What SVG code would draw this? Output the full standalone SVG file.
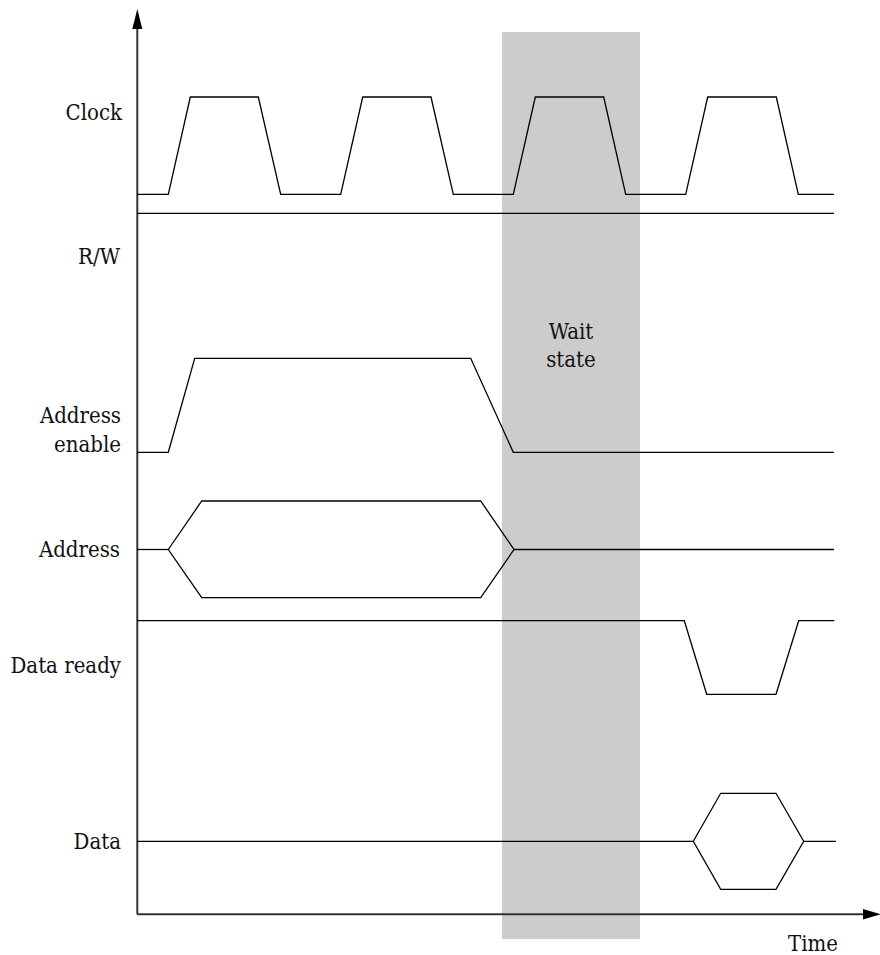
<svg xmlns="http://www.w3.org/2000/svg" width="880" height="955" viewBox="0 0 880 955">
<style>
.lbl{font-family:"DejaVu Serif Condensed","DejaVu Serif","Liberation Serif",serif;font-stretch:condensed;font-size:22px;fill:#111}
.sig{fill:none;stroke:#000;stroke-width:1.3;stroke-linejoin:miter}
.axis{fill:none;stroke:#333;stroke-width:2}
.head{fill:#000}
</style>
<rect id="wait-state" x="502" y="32" width="138" height="907" fill="#cccccc"/>
<g id="axes">
<line class="axis" x1="137.3" y1="26" x2="137.3" y2="914.3"/>
<polygon class="head" points="137.3,9 132.3,29 142.3,29"/>
<line class="axis" x1="137.3" y1="914.3" x2="866" y2="914.3"/>
<polygon class="head" points="881,914.3 863,909 863,919.6"/>
</g>
<g id="clock">
<text class="lbl" x="122" y="120" text-anchor="end">Clock</text>
<polyline class="sig" points="137.3,194.3 168.3,194.3 190.3,97 258.3,97 280.7,194.3 340.7,194.3 362.7,97 431,97 453.3,194.3 513.3,194.3 535.3,97 603.7,97 625.7,194.3 685.7,194.3 707.7,97 776.3,97 798.3,194.3 834,194.3"/>
</g>
<g id="rw">
<text class="lbl" x="120" y="263.5" text-anchor="end">R/W</text>
<line class="sig" x1="137.3" y1="213.3" x2="834" y2="213.3"/>
</g>
<g id="address-enable">
<text class="lbl" x="121" y="423.3" text-anchor="end">Address</text>
<text class="lbl" x="121" y="451.7" text-anchor="end">enable</text>
<polyline class="sig" points="137.3,452.3 168.3,452.3 194.7,358.3 470.7,358.3 513.3,452.3 834,452.3"/>
</g>
<g id="address">
<text class="lbl" x="120" y="556.7" text-anchor="end">Address</text>
<polyline class="sig" points="137.3,549.5 168.3,549.5"/>
<polygon class="sig" points="168.3,549.5 201.7,501 480.7,501 514,549.5 480.7,597.7 201.7,597.7"/>
<polyline class="sig" points="514,549.5 834,549.5"/>
</g>
<g id="data-ready">
<text class="lbl" x="121" y="673" text-anchor="end">Data ready</text>
<polyline class="sig" points="137.3,620.7 684.3,620.7 706.7,694.3 776,694.3 798.7,620.7 834.3,620.7"/>
</g>
<g id="data">
<text class="lbl" x="121" y="849" text-anchor="end">Data</text>
<polyline class="sig" points="137.3,841.3 693.3,841.3"/>
<polygon class="sig" points="693.3,841.3 720.7,793.3 776,793.3 803.7,841.3 776,889.3 720.7,889.3"/>
<polyline class="sig" points="803.7,841.3 836,841.3"/>
</g>
<g id="wait-label">
<text class="lbl" x="571" y="339" text-anchor="middle">Wait</text>
<text class="lbl" x="571" y="367" text-anchor="middle">state</text>
</g>
<g id="time-label">
<text class="lbl" x="838" y="951" text-anchor="end">Time</text>
</g>
</svg>
